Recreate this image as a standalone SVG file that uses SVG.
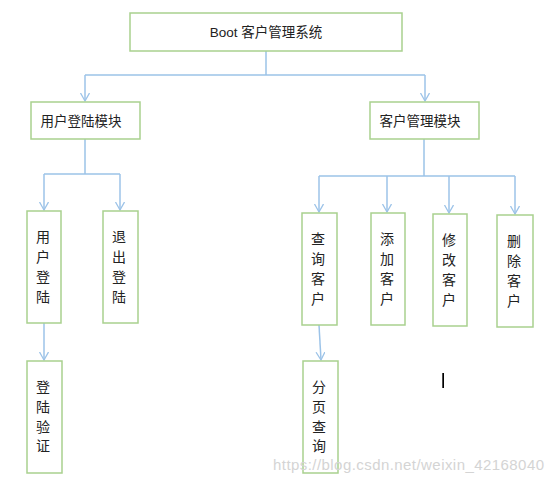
<svg xmlns="http://www.w3.org/2000/svg" width="554" height="483" viewBox="0 0 554 483">
<style>
.box{fill:#fff;stroke:#a9d18e;stroke-width:1.5}
.t{font-family:"Liberation Sans","Noto Sans CJK SC",sans-serif;font-size:13.5px;fill:#222;text-anchor:middle}
.v{font-family:"Noto Sans CJK SC",sans-serif;font-size:14px;fill:#222;text-anchor:middle}
.c{fill:none;stroke:#9cc3e8;stroke-width:1.5}
.wm{font-family:"Liberation Sans",sans-serif;font-size:15px;fill:#d4d4d4}
</style>
<defs>
<marker id="ah" markerUnits="userSpaceOnUse" markerWidth="12" markerHeight="12" refX="8" refY="4.5" orient="auto">
<path d="M0,0 L8,4.5 L0,9" fill="none" stroke="#9cc3e8" stroke-width="1.3"/>
</marker>
</defs>
<rect width="554" height="483" fill="#fff"/>
<g id="connectors">
<path class="c" d="M266,51 V75 M85,75 H425"/>
<path class="c" d="M85,75 V101" marker-end="url(#ah)"/>
<path class="c" d="M425,75 V101" marker-end="url(#ah)"/>
<path class="c" d="M85,139 V174 M44,174 H120"/>
<path class="c" d="M44,174 V210" marker-end="url(#ah)"/>
<path class="c" d="M120,174 V210" marker-end="url(#ah)"/>
<path class="c" d="M424,139 V176 M319,176 H515"/>
<path class="c" d="M319,176 V212" marker-end="url(#ah)"/>
<path class="c" d="M387,176 V212" marker-end="url(#ah)"/>
<path class="c" d="M449,176 V213" marker-end="url(#ah)"/>
<path class="c" d="M515,176 V214" marker-end="url(#ah)"/>
<path class="c" d="M44,323 V360" marker-end="url(#ah)"/>
<path class="c" d="M319,325 L321,360" marker-end="url(#ah)"/>
</g>
<g id="root"><rect class="box" x="130" y="13" width="272" height="38"/><text class="t" x="266" y="37">Boot 客户管理系统</text></g>
<g id="login-module"><rect class="box" x="31" y="102" width="109" height="37"/><text class="t" x="81" y="126">用户登陆模块</text></g>
<g id="customer-module"><rect class="box" x="370" y="102" width="109" height="37"/><text class="t" x="420" y="126">客户管理模块</text></g>
<g id="user-login"><rect class="box" x="27" y="211" width="34" height="112"/>
<text class="v" x="43"><tspan x="43" y="242">用</tspan><tspan x="43" y="262">户</tspan><tspan x="43" y="282">登</tspan><tspan x="43" y="302">陆</tspan></text></g>
<g id="logout"><rect class="box" x="103" y="211" width="35" height="112"/>
<text class="v"><tspan x="119" y="242">退</tspan><tspan x="119" y="262">出</tspan><tspan x="119" y="282">登</tspan><tspan x="119" y="302">陆</tspan></text></g>
<g id="query"><rect class="box" x="302" y="213" width="35" height="112"/>
<text class="v"><tspan x="318" y="244">查</tspan><tspan x="318" y="264">询</tspan><tspan x="318" y="284">客</tspan><tspan x="318" y="304">户</tspan></text></g>
<g id="add"><rect class="box" x="371" y="213" width="34" height="112"/>
<text class="v"><tspan x="387" y="244">添</tspan><tspan x="387" y="264">加</tspan><tspan x="387" y="284">客</tspan><tspan x="387" y="304">户</tspan></text></g>
<g id="edit"><rect class="box" x="433" y="214" width="34" height="112"/>
<text class="v"><tspan x="449" y="245">修</tspan><tspan x="449" y="265">改</tspan><tspan x="449" y="285">客</tspan><tspan x="449" y="305">户</tspan></text></g>
<g id="delete"><rect class="box" x="497" y="215" width="36" height="112"/>
<text class="v"><tspan x="514" y="246">删</tspan><tspan x="514" y="266">除</tspan><tspan x="514" y="286">客</tspan><tspan x="514" y="306">户</tspan></text></g>
<g id="verify"><rect class="box" x="27" y="361" width="35" height="112"/>
<text class="v"><tspan x="43" y="392">登</tspan><tspan x="43" y="412">陆</tspan><tspan x="43" y="432">验</tspan><tspan x="43" y="451">证</tspan></text></g>
<g id="paging"><rect class="box" x="303" y="361" width="35" height="112"/>
<text class="v"><tspan x="319" y="392">分</tspan><tspan x="319" y="412">页</tspan><tspan x="319" y="432">查</tspan><tspan x="319" y="451">询</tspan></text></g>
<rect x="442.3" y="373" width="1.7" height="15" fill="#000"/>
<text class="wm" x="273" y="470" textLength="271">https://blog.csdn.net/weixin_42168040</text>
</svg>
